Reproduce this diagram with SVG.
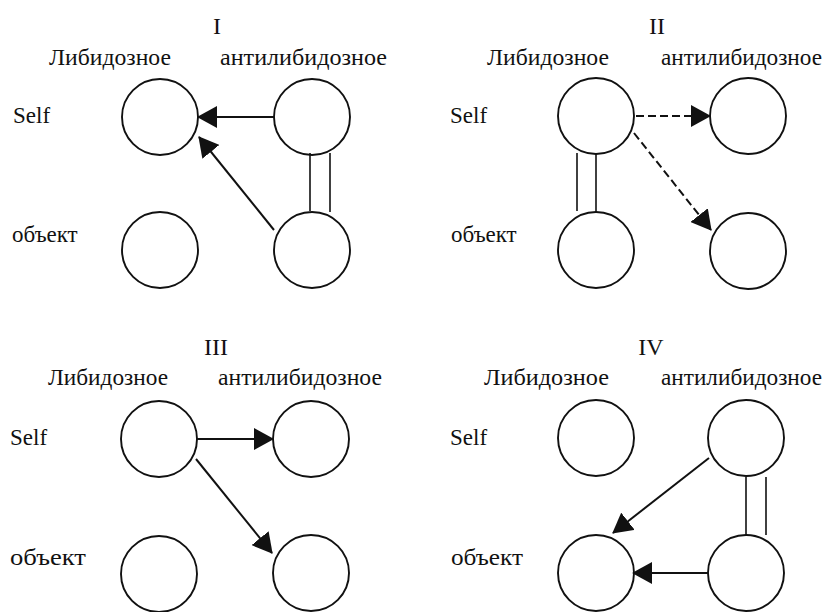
<svg xmlns="http://www.w3.org/2000/svg" width="827" height="612" viewBox="0 0 827 612">
<style>
text{fill:#111;font-size:23px}
.t{font-size:24px;text-anchor:middle}
circle{fill:none;stroke:#111;stroke-width:1.9}
.c{stroke:#111;stroke-width:2;fill:none}
.d{stroke-dasharray:8 4}
.dl{stroke:#111;stroke-width:1.6}
</style>
<defs>
<marker id="ah" markerUnits="userSpaceOnUse" markerWidth="20" markerHeight="22" viewBox="0 0 20 22" refX="19" refY="11" orient="auto"><path d="M0,0 L20,11 L0,22 Z" fill="#111"/></marker>
</defs>
<rect width="827" height="612" fill="#fff"/>
<g id="labels" font-family="'Liberation Serif', 'Times New Roman', serif">
<text class="t" x="217" y="34">I</text>
<text x="49" y="65" textLength="122" lengthAdjust="spacingAndGlyphs">Либидозное</text>
<text x="220" y="65" textLength="167" lengthAdjust="spacingAndGlyphs">антилибидозное</text>
<text x="13" y="123">Self</text>
<text x="12" y="242">объект</text>
<text class="t" x="657" y="34">II</text>
<text x="487" y="65" textLength="122" lengthAdjust="spacingAndGlyphs">Либидозное</text>
<text x="661" y="65" textLength="161" lengthAdjust="spacingAndGlyphs">антилибидозное</text>
<text x="450" y="123">Self</text>
<text x="451" y="242">объект</text>
<text class="t" x="216" y="355">III</text>
<text x="48" y="385" textLength="120" lengthAdjust="spacingAndGlyphs">Либидозное</text>
<text x="218" y="385" textLength="164" lengthAdjust="spacingAndGlyphs">антилибидозное</text>
<text x="10" y="445">Self</text>
<text x="10" y="565" textLength="76" lengthAdjust="spacingAndGlyphs">объект</text>
<text class="t" x="651" y="355">IV</text>
<text x="484" y="385" textLength="125" lengthAdjust="spacingAndGlyphs">Либидозное</text>
<text x="661" y="385" textLength="161" lengthAdjust="spacingAndGlyphs">антилибидозное</text>
<text x="450" y="445">Self</text>
<text x="451" y="565" textLength="72" lengthAdjust="spacingAndGlyphs">объект</text>
</g>
<g id="n1-lib-self"><circle cx="160" cy="117" r="38"/></g>
<g id="n1-anti-self"><circle cx="312" cy="117" r="38"/></g>
<g id="n1-lib-obj"><circle cx="160" cy="250" r="38"/></g>
<g id="n1-anti-obj"><circle cx="312" cy="250" r="38"/></g>
<g id="n2-lib-self"><circle cx="596" cy="116" r="38"/></g>
<g id="n2-anti-self"><circle cx="748" cy="116" r="38"/></g>
<g id="n2-lib-obj"><circle cx="596" cy="250" r="38"/></g>
<g id="n2-anti-obj"><circle cx="748" cy="251" r="38"/></g>
<g id="n3-lib-self"><circle cx="159" cy="439" r="38"/></g>
<g id="n3-anti-self"><circle cx="311" cy="439" r="38"/></g>
<g id="n3-lib-obj"><circle cx="159" cy="574" r="38"/></g>
<g id="n3-anti-obj"><circle cx="311" cy="573" r="38"/></g>
<g id="n4-lib-self"><circle cx="596" cy="438" r="38"/></g>
<g id="n4-anti-self"><circle cx="746" cy="438" r="38"/></g>
<g id="n4-lib-obj"><circle cx="596" cy="573" r="38"/></g>
<g id="n4-anti-obj"><circle cx="746" cy="573" r="38"/></g>
<g id="connectors">
<line class="c" x1="274" y1="117" x2="198" y2="117" marker-end="url(#ah)"/>
<line class="c" x1="274" y1="230" x2="199" y2="137" marker-end="url(#ah)"/>
<line class="dl" x1="310" y1="153" x2="310" y2="211"/>
<line class="dl" x1="330" y1="153" x2="330" y2="212"/>
<line class="c d" x1="636" y1="116" x2="710" y2="116" marker-end="url(#ah)"/>
<line class="c d" x1="634" y1="133" x2="711" y2="230" marker-end="url(#ah)"/>
<line class="dl" x1="577" y1="153" x2="577" y2="211"/>
<line class="dl" x1="596" y1="153" x2="596" y2="212"/>
<line class="c" x1="197" y1="439" x2="273" y2="439" marker-end="url(#ah)"/>
<line class="c" x1="196" y1="459" x2="272" y2="553" marker-end="url(#ah)"/>
<line class="c" x1="709" y1="458" x2="613" y2="533" marker-end="url(#ah)"/>
<line class="c" x1="708" y1="573" x2="633" y2="573" marker-end="url(#ah)"/>
<line class="dl" x1="746" y1="477" x2="746" y2="535"/>
<line class="dl" x1="766" y1="477" x2="766" y2="535"/>
</g>
</svg>
